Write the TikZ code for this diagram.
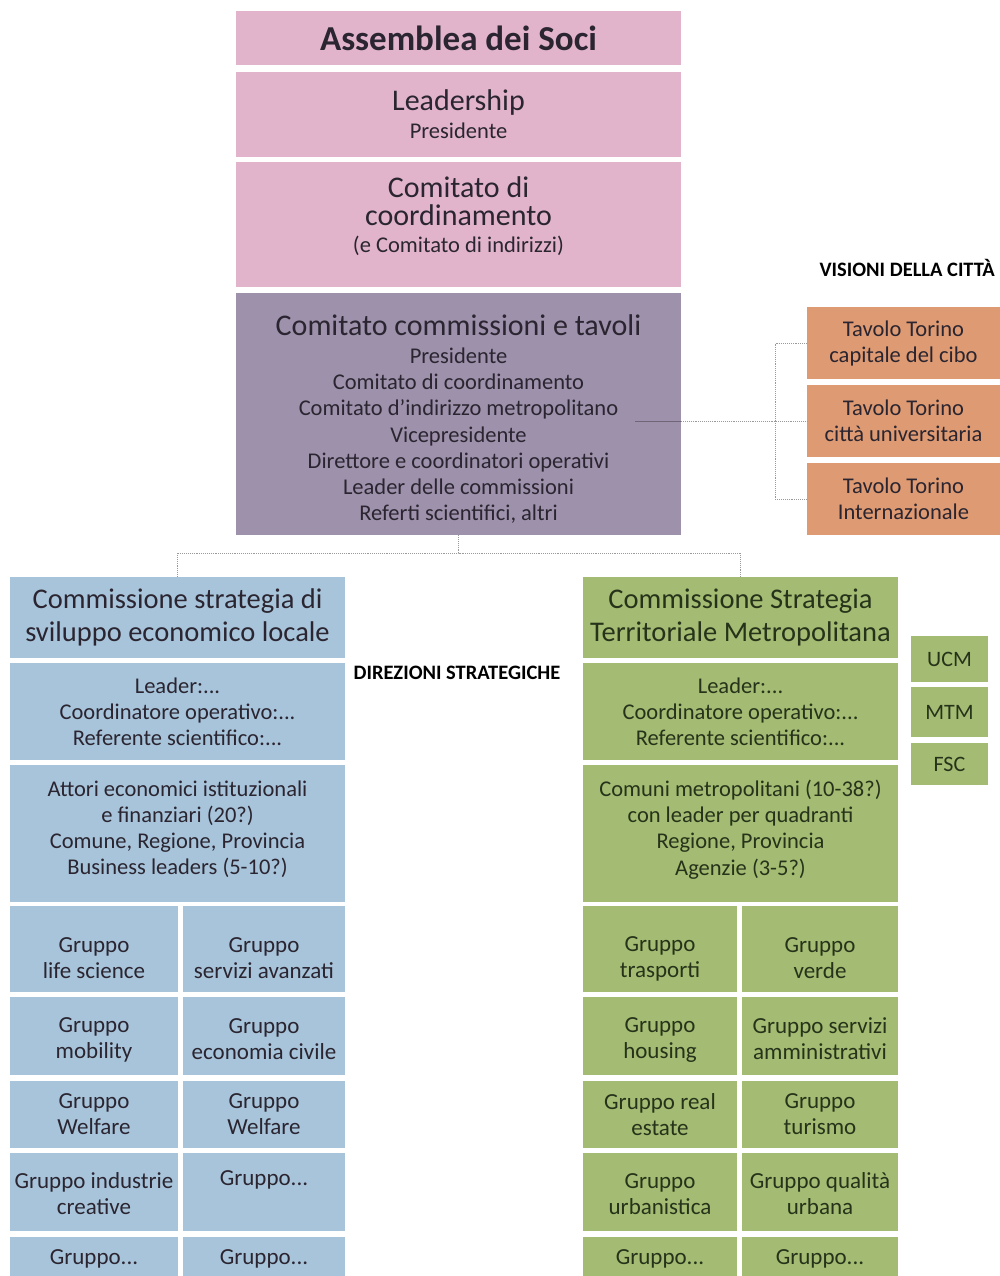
\documentclass[tikz,border=0pt]{standalone}
\usepackage{fontspec}
\setmainfont{Carlito}
\definecolor{pinkc}{HTML}{E1B4CC}
\definecolor{purpc}{HTML}{9E91AB}
\definecolor{orgc}{HTML}{DE9A72}
\definecolor{bluec}{HTML}{A8C4DA}
\definecolor{grnc}{HTML}{A3BB72}
\definecolor{txt}{HTML}{2A2530}
\definecolor{gtxt}{HTML}{26331A}
\definecolor{linec}{HTML}{9A9A9A}
\definecolor{linein}{HTML}{6E6676}
\newcommand\upsp[1]{\rule{0pt}{#1pt}}
\newcommand\dnsp[1]{\rule[-#1pt]{0pt}{#1pt}}
\tikzset{
  cell/.style 2 args={rectangle, inner sep=0pt, align=center, minimum width=#1, minimum height=#2},
  pinkbox/.style={fill=pinkc, text=txt},
  purpbox/.style={fill=purpc, text=txt},
  orgbox/.style={fill=orgc, text=txt, font=\fontsize{22.5}{26}\selectfont},
  bluebox/.style={fill=bluec, text=txt},
  grnbox/.style={fill=grnc, text=gtxt},
  title/.style={font=\fontsize{28.5}{33}\selectfont},
  body/.style={font=\fontsize{22.5}{26.2}\selectfont},
  grp/.style={font=\fontsize{23}{26}\selectfont},
  side/.style={font=\fontsize{22}{26}\selectfont},
  heading/.style={font=\bfseries\fontsize{20.5}{22}\selectfont, text=black, inner sep=0pt},
  conn/.style={draw=linec, densely dotted, line width=0.9pt},
  connin/.style={draw=linein, line width=0.7pt},
}
\begin{document}
\begin{tikzpicture}[x=1pt,y=-1pt]
\useasboundingbox[fill=white] (0,0) rectangle (1000,1276);
% top column
\node[pinkbox, cell={445pt}{54pt}, font=\bfseries\fontsize{35}{38}\selectfont] (assem) at (458.5,38) {Assemblea dei Soci};
\node[pinkbox, cell={445pt}{85pt}, font=\fontsize{22.5}{26}\selectfont] (lead) at (458.5,114.5) {{\fontsize{30}{30}\selectfont Leadership}\\[2pt]Presidente};
\node[pinkbox, cell={445pt}{125pt}, font=\fontsize{22.5}{26}\selectfont] (coord) at (458.5,224.5) {{\fontsize{30}{30}\selectfont Comitato di}\\[2pt]{\fontsize{30}{30}\selectfont coordinamento}\\[1pt](e Comitato di indirizzi)\dnsp{19}};
\node[purpbox, cell={445pt}{242pt}, body] (purp) at (458.5,414) {\upsp{31}{\fontsize{30}{30}\selectfont Comitato commissioni e tavoli}\\[2pt]Presidente\\Comitato di coordinamento\\Comitato d’indirizzo metropolitano\\Vicepresidente\\Direttore e coordinatori operativi\\Leader delle commissioni\\Referti scientifici, altri};
% visioni
\node[heading, anchor=east] (vis) at (995,268) {VISIONI DELLA CITTÀ};
\node[orgbox, cell={193pt}{72pt}] (or1) at (903.5,343) {Tavolo Torino\\capitale del cibo};
\node[orgbox, cell={193pt}{72pt}] (or2) at (903.5,421) {Tavolo Torino\\città universitaria};
\node[orgbox, cell={193pt}{72pt}] (or3) at (903.5,499) {Tavolo Torino\\Internazionale};
\coordinate (pin) at (635,421);
\coordinate (vj) at (775,421);
\draw[connin] (pin) -- (pin -| purp.east);
\draw[conn] (pin -| purp.east) -- (or2.west);
\draw[conn] (or1.west) -| (vj) |- (or3.west);
% left column
\node[bluebox, cell={335pt}{81pt}, title] (bt) at (177.5,617.5) {Commissione strategia di\\sviluppo economico locale};
\node[bluebox, cell={335pt}{97pt}, body] (bl) at (177.5,711.5) {Leader:...\\Coordinatore operativo:...\\Referente scientifico:...};
\node[bluebox, cell={335pt}{137pt}, body] (ba) at (177.5,833.5) {Attori economici istituzionali\\e finanziari (20?)\\Comune, Regione, Provincia\\Business leaders (5-10?)\dnsp{12}};
\node[bluebox, cell={168pt}{86pt}, grp] (b11) at (94,949) {\upsp{34}Gruppo\\life science};
\node[bluebox, cell={162pt}{86pt}, grp] (b12) at (264,949) {\upsp{34}Gruppo\\servizi avanzati};
\node[bluebox, cell={168pt}{78pt}, grp] (b21) at (94,1036) {\upsp{22}Gruppo\\mobility};
\node[bluebox, cell={162pt}{78pt}, grp] (b22) at (264,1036) {\upsp{22}Gruppo\\economia civile};
\node[bluebox, cell={168pt}{67pt}, grp] (b31) at (94,1114.5) {Gruppo\\Welfare};
\node[bluebox, cell={162pt}{67pt}, grp] (b32) at (264,1114.5) {Gruppo\\Welfare};
\node[bluebox, cell={168pt}{78pt}, grp] (b41) at (94,1192) {\upsp{20}Gruppo industrie\\creative};
\node[bluebox, cell={162pt}{78pt}, grp] (b42) at (264,1192) {\upsp{20}Gruppo...\\\strut};
\node[bluebox, cell={168pt}{43pt}, grp] (b51) at (94,1258.5) {Gruppo...};
\node[bluebox, cell={162pt}{43pt}, grp] (b52) at (264,1258.5) {Gruppo...};
% middle label
\node[heading] (dir) at (457,673) {DIREZIONI STRATEGICHE};
% right column
\node[grnbox, cell={315pt}{81pt}, title] (gt) at (740.5,617.5) {Commissione Strategia\\Territoriale Metropolitana};
\node[grnbox, cell={315pt}{97pt}, body] (gl) at (740.5,711.5) {Leader:...\\Coordinatore operativo:...\\Referente scientifico:...};
\node[grnbox, cell={315pt}{137pt}, body] (ga) at (740.5,833.5) {Comuni metropolitani (10-38?)\\con leader per quadranti\\Regione, Provincia\\Agenzie (3-5?)\dnsp{12}};
\node[grnbox, cell={154pt}{86pt}, grp] (g11) at (660,949) {\upsp{34}Gruppo\\trasporti};
\node[grnbox, cell={156pt}{86pt}, grp] (g12) at (820,949) {\upsp{34}Gruppo\\verde};
\node[grnbox, cell={154pt}{78pt}, grp] (g21) at (660,1036) {\upsp{22}Gruppo\\housing};
\node[grnbox, cell={156pt}{78pt}, grp] (g22) at (820,1036) {\upsp{22}Gruppo servizi\\amministrativi};
\node[grnbox, cell={154pt}{67pt}, grp] (g31) at (660,1114.5) {Gruppo real\\estate};
\node[grnbox, cell={156pt}{67pt}, grp] (g32) at (820,1114.5) {Gruppo\\turismo};
\node[grnbox, cell={154pt}{78pt}, grp] (g41) at (660,1192) {\upsp{20}Gruppo\\urbanistica};
\node[grnbox, cell={156pt}{78pt}, grp] (g42) at (820,1192) {\upsp{20}Gruppo qualità\\urbana};
\node[grnbox, cell={154pt}{43pt}, grp] (g51) at (660,1258.5) {Gruppo...};
\node[grnbox, cell={156pt}{43pt}, grp] (g52) at (820,1258.5) {Gruppo...};
% side boxes
\node[grnbox, cell={77pt}{46pt}, side] (ucm) at (949.5,659) {UCM};
\node[grnbox, cell={77pt}{50pt}, side] (mtm) at (949.5,712) {MTM};
\node[grnbox, cell={77pt}{42pt}, side] (fsc) at (949.5,764) {FSC};
% bottom connectors
\coordinate (bj) at (458.5,553);
\draw[conn] (purp.south) -- (bj);
\draw[conn] (bt.north) |- (bj) -| (gt.north);
\end{tikzpicture}
\end{document}
